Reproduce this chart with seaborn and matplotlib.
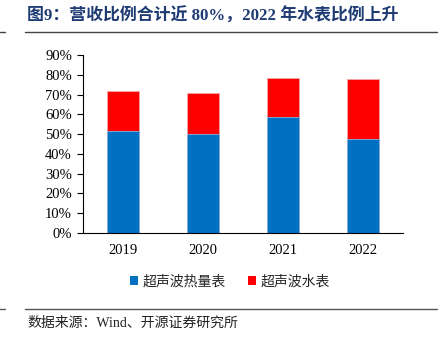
import matplotlib
matplotlib.use("Agg")
import matplotlib.pyplot as plt
import seaborn as sns
import pandas as pd
import numpy as np
from matplotlib.patches import Patch
from matplotlib.lines import Line2D

years = ["2019", "2020", "2021", "2022"]
heat_meter = [51.8, 50.3, 58.6, 47.7]   # 超声波热量表 %
water_meter = [19.9, 20.6, 19.7, 30.1]  # 超声波水表 %
yticks = [0, 10, 20, 30, 40, 50, 60, 70, 80, 90]
title = "图9：营收比例合计近 80%，2022 年水表比例上升"
source = "数据来源：Wind、开源证券研究所"
legend_labels = ["超声波热量表", "超声波水表"]

sns.set_theme(style="white")
fam = ["Liberation Serif", "Noto Sans CJK SC", "DejaVu Sans"]
plt.rcParams["font.family"] = fam

BLUE = "#0070C0"
RED = "#FF0000"

df = pd.DataFrame({"year": years, "heat": heat_meter, "water": water_meter})
df["total"] = df["heat"] + df["water"]

fig = plt.figure(figsize=(4.41, 3.42), dpi=100)
ax = fig.add_axes([83/441, 1-233/342, (403-83)/441, (233-55)/342])

sns.barplot(data=df, x="year", y="total", color=RED, width=0.4, ax=ax,
            edgecolor="#F4A6A6", linewidth=0.6, saturation=1)
sns.barplot(data=df, x="year", y="heat", color=BLUE, width=0.4, ax=ax,
            edgecolor="#7FB3E0", linewidth=0.6, saturation=1)

ax.set_xlim(-0.5, 3.5)
ax.set_ylim(0, 90)
ax.set_yticks(yticks)
ax.set_yticklabels([f"{v}%" for v in yticks], fontsize=10.5, family=fam)
ax.set_xticks(range(len(years)))
ax.set_xticklabels(years, fontsize=10.5, family=fam)
ax.set_xticks(np.arange(-0.5, 4, 1), minor=True)
ax.tick_params(axis="x", which="major", length=0, pad=8, colors="black")
ax.tick_params(axis="x", which="minor", length=4, width=0.8, direction="out", color="black")
ax.tick_params(axis="y", length=4, width=0.8, direction="out", color="black", pad=4, colors="black")
ax.tick_params(axis="y", which="major", left=True)
ax.set_xlabel("")
ax.set_ylabel("")
for s in ["top", "right"]:
    ax.spines[s].set_visible(False)
for s in ["left", "bottom"]:
    ax.spines[s].set_visible(True)
    ax.spines[s].set_color("black")
    ax.spines[s].set_linewidth(0.8)

handles = [Patch(facecolor=BLUE, edgecolor="none"), Patch(facecolor=RED, edgecolor="none")]
fig.legend(handles, legend_labels, loc="center", bbox_to_anchor=(230/441, 1-282/342),
           ncol=2, frameon=False, handlelength=0.6, handleheight=0.6,
           handletextpad=0.3, columnspacing=1.6, prop={"family": fam, "size": 10})

# title
fig.text(27/441, 1-16/342, title, fontsize=12.2, fontweight="bold", color="#1F3B73",
         va="center", ha="left", family=fam)
fig.add_artist(Line2D([25/441, 437/441], [1-32/342, 1-32/342], color="#444444", lw=1.0))
fig.add_artist(Line2D([0, 5/441], [1-32/342, 1-32/342], color="#444444", lw=1.0))
# footer
fig.add_artist(Line2D([25/441, 437/441], [1-309/342, 1-309/342], color="#555555", lw=1.0))
fig.add_artist(Line2D([0, 5/441], [1-309/342, 1-309/342], color="#555555", lw=1.0))
fig.text(27/441, 1-323/342, source, fontsize=10, color="#222222", va="center", ha="left", family=fam)

fig.savefig("out.png", dpi=100)
